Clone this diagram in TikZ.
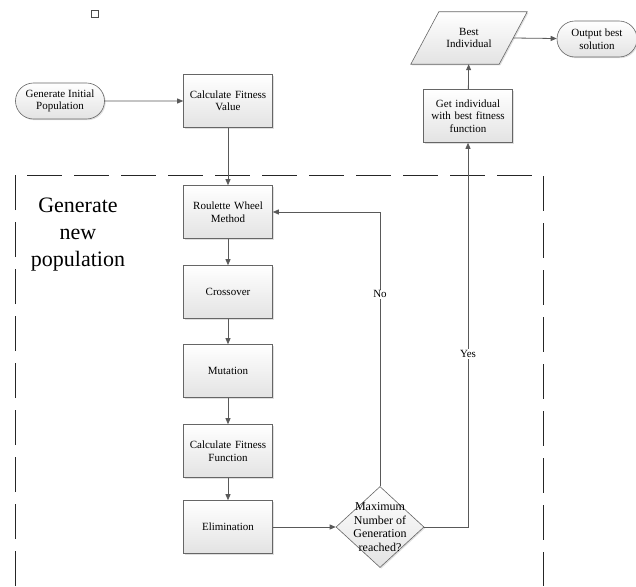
\documentclass[tikz,border=0pt]{standalone}
\usepackage{fontspec}
\setmainfont{Liberation Serif}
\usetikzlibrary{shapes.geometric,shapes.misc,arrows.meta,shadows}

\begin{document}
\begin{tikzpicture}[x=1pt,y=1pt]
\tikzset{
  every node/.style={font=\fontsize{11}{12.5}\selectfont, inner sep=1pt},
  procbox/.style={draw=gray!80!black, semithick, rectangle, minimum width=89pt, minimum height=53pt,
    top color=white, bottom color=gray!22, align=center, text width=86pt,
    drop shadow={opacity=0.25, shadow xshift=1.2pt, shadow yshift=-1.2pt}},
  termbox/.style={draw=gray!80!black, semithick, rounded rectangle, minimum width=89pt, minimum height=36pt,
    top color=white, bottom color=gray!22, align=center,
    drop shadow={opacity=0.25, shadow xshift=1.2pt, shadow yshift=-1.2pt}},
  iobox/.style={draw=gray!80!black, semithick, top color=white, bottom color=gray!22,
    drop shadow={opacity=0.25, shadow xshift=1.2pt, shadow yshift=-1.2pt}},
  flow/.style={draw=gray!70!black, thick, -{Triangle[length=6pt,width=5pt]}}
}
\useasboundingbox (0,0) rectangle (636,-586);
\draw [gray!60!black, thick] (91,-10.5) rectangle (98.5,-17.5);
\draw [black!85, semithick, dash pattern=on 35pt off 12pt] (15,-586) -- (15,-175) -- (543,-175) -- (543,-586);
\node [font=\fontsize{22}{27}\selectfont, align=center] (title) at (78,-235) {Generate\\new\\population};
\node [termbox, inner xsep=0pt] (init) at (60,-101) {Generate Initial\\Population};
\node [procbox] (calcval) at (228,-101) {Calculate Fitness\\Value};
\node [procbox] (roulette) at (228,-212) {Roulette Wheel\\Method};
\node [procbox] (cross) at (228,-292) {Crossover};
\node [procbox] (mutate) at (228,-371) {Mutation};
\node [procbox] (calcfun) at (228,-451) {Calculate Fitness\\Function};
\node [procbox] (elim) at (228,-527) {Elimination};
\node [draw=gray!80!black, semithick, diamond, minimum width=88pt, minimum height=81pt, inner sep=0pt,
  top color=white, bottom color=gray!22,
  drop shadow={opacity=0.25, shadow xshift=1.2pt, shadow yshift=-1.2pt},
  label={[align=center, font=\fontsize{12}{13.5}\selectfont]center:Maximum\\Number of\\Generation\\reached?}] (maxgen) at (380,-527) {};
\node [procbox] (getbest) at (468,-116) {Get individual\\with best fitness\\function};
\node [minimum width=116pt, minimum height=52pt, inner sep=0pt] (best) at (469,-38) {};
\draw [iobox] ([xshift=28pt]best.north west) -- (best.north east) -- ([xshift=-28pt]best.south east) -- (best.south west) -- cycle;
\node [align=center] (bestlabel) at (best) {Best\\Individual};
\node [termbox, minimum width=82pt] (output) at (597,-39) {Output best\\solution};
\draw [flow] (init) -- (calcval);
\draw [flow] (calcval) -- (roulette);
\draw [flow] (roulette) -- (cross);
\draw [flow] (cross) -- (mutate);
\draw [flow] (mutate) -- (calcfun);
\draw [flow] (calcfun) -- (elim);
\draw [flow] (elim) -- (maxgen);
\draw [flow] (maxgen.north) -- (maxgen.north |- roulette.east) node [pos=0.7, fill=white, inner sep=1pt] {No} -- (roulette.east);
\draw [flow] (maxgen.east) -- (maxgen.east -| getbest.south) -- (getbest.south) node [pos=0.45, fill=white, inner sep=1pt] {Yes};
\draw [flow] (getbest) -- (best);
\draw [flow] ([xshift=-14pt]best.east) -- (output);
\end{tikzpicture}
\end{document}
